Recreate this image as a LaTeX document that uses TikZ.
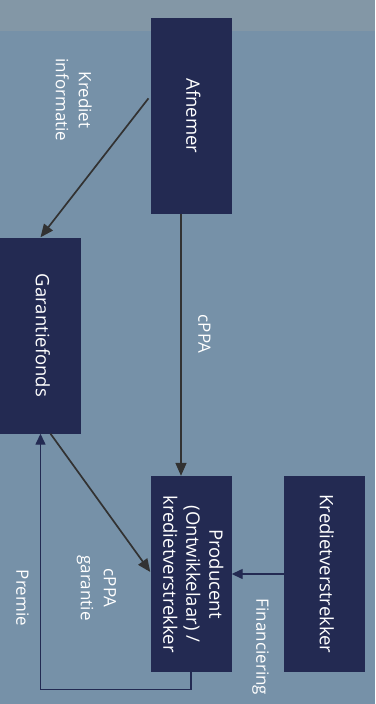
\documentclass[tikz,border=0pt]{standalone}
\usepackage{fontspec}
\setmainfont{Open Sans}
\usepackage{graphicx}
\usetikzlibrary{arrows.meta}
\definecolor{navybox}{RGB}{35,42,82}
\definecolor{skyback}{RGB}{118,145,168}
\definecolor{skytop}{RGB}{131,151,166}
\definecolor{arrowgray}{RGB}{50,50,50}
\newcommand{\turntext}[1]{\rotatebox{-90}{\begin{tabular}{@{}c@{}}#1\end{tabular}}}

\begin{document}
\begin{tikzpicture}
[x=1pt,y=-1pt,
  boxdecorate/.style={fill=navybox,text=white,inner sep=0pt,
    minimum width=81pt,minimum height=196pt,font=\fontsize{18.5}{23}\selectfont},
  labeldecorate/.style={text=white,inner sep=0pt,font=\fontsize{17}{23}\selectfont},
  linedecorate/.style={-{Triangle[length=13pt,width=11pt]},draw=arrowgray,line width=1.7pt},
  premiedecorate/.style={-{Triangle[length=11pt,width=10pt]},draw=navybox,line width=1.4pt}]
%% background
\fill[skyback] (0,0) rectangle (375,704);
\fill[skytop] (0,0) rectangle (375,31);
%% boxes
\foreach \nodename/\x/\y/\nodetext in {
  Afnemer/191/116/Afnemer,
  Garantiefonds/40.5/335.5/Garantiefonds,
  Producent/191/574/{Producent\\(Ontwikkelaar) /\\kredietverstrekker},
  Kredietverstrekker/324.5/574/Kredietverstrekker}
{
  \node (\nodename) at (\x,\y) [boxdecorate] {\turntext{\nodetext}};
}
%% labels
\foreach \nodename/\x/\y/\nodetext in {
  kredietinfo/72/100/{Krediet\\informatie},
  cppa/203/334/cPPA,
  cppagarantie/97/588/{cPPA\\garantie},
  premie/21/598/Premie,
  financiering/261/647/Financiering}
{
  \node (\nodename) at (\x,\y) [labeldecorate] {\turntext{\nodetext}};
}
%% connectors
\draw[linedecorate,shorten <=3pt] ([yshift=20pt]Afnemer.west) -- (Garantiefonds.north);
\draw[linedecorate] ([xshift=-10pt]Afnemer.south) -- ([xshift=-10pt]Producent.north);
\draw[linedecorate] ([xshift=10pt]Garantiefonds.south) -- ([yshift=2pt]Producent.west);
\draw[premiedecorate] (Producent.south) -- ++(0,17) -| (Garantiefonds.south);
\draw[premiedecorate] (Kredietverstrekker.west) -- (Producent.east);
\end{tikzpicture}
\end{document}
